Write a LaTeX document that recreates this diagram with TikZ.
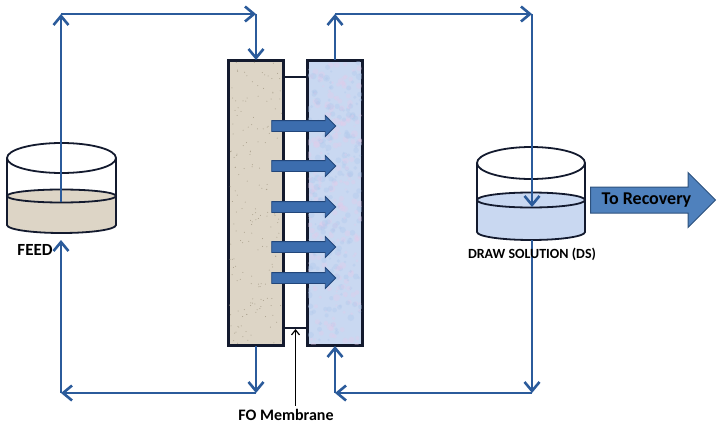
\documentclass[tikz,border=0pt]{standalone}
\usepackage{fontspec}
\setmainfont{Carlito}
\usetikzlibrary{arrows.meta,shapes.arrows,calc,positioning}

\definecolor{pipeblue}{HTML}{2B5B9B}
\definecolor{edge}{HTML}{131A2E}
\definecolor{feedfill}{HTML}{DDD5C6}
\definecolor{feedspeck}{HTML}{A89E8A}
\definecolor{dsfill}{HTML}{C9D8F1}
\definecolor{dspink}{HTML}{E4CBEA}
\definecolor{dsblue}{HTML}{AFC7EC}
\definecolor{fluxblue}{HTML}{3C6DAE}
\definecolor{fluxedge}{HTML}{22467A}
\definecolor{recblue}{HTML}{4F81BD}
\definecolor{recedge}{HTML}{2E527E}

\begin{document}
\begin{tikzpicture}[x=1pt, y=-1pt, >={Straight Barb[length=9pt,width=15pt]}]
		\useasboundingbox (0,0) rectangle (720,431);
		\tikzstyle{chamber} = [draw=edge, line width=2pt, minimum width=54pt, minimum height=284pt, inner sep=0pt]
		\tikzstyle{pipe} = [->, draw=pipeblue, line width=2.6pt]
		\tikzstyle{tank} = [draw=edge, line width=1.8pt]
		\tikzstyle{flux} = [single arrow, draw=fluxedge, fill=fluxblue, line width=0.8pt, minimum height=64pt, inner xsep=0pt, inner ysep=5pt, single arrow head extend=5pt]
		\tikzstyle{label} = [font=\bfseries, text=black]

		% membrane module
		\node[draw=edge, line width=2pt, minimum width=25pt, minimum height=251pt, inner sep=0pt] (mem) at (295.5,202.5) {};
		\node[chamber, fill=feedfill] (feedch) at (256,203) {};
		\node[chamber, fill=dsfill] (dsch) at (335,203) {};

		% texture of the two solutions
		\pgfmathsetseed{7}
		\begin{scope}
			\clip ([shift={(1pt,1pt)}]feedch.south west) rectangle ([shift={(-1pt,-1pt)}]feedch.north east);
			\foreach \k in {1,...,180}
				\fill[feedspeck] ($(feedch.south west)+(rnd*54pt, rnd*284pt)$) circle (0.5pt);
		\end{scope}
		\begin{scope}
			\clip ([shift={(1pt,1pt)}]dsch.south west) rectangle ([shift={(-1pt,-1pt)}]dsch.north east);
			\foreach \k in {1,...,220} {
				\pgfmathsetmacro\r{1+2.5*rnd}
				\fill[dspink, opacity=0.35] ($(dsch.south west)+(rnd*54pt, rnd*284pt)$) circle (\r pt);
				\fill[dsblue, opacity=0.35] ($(dsch.south west)+(rnd*54pt, rnd*284pt)$) circle (\r pt);
			}
		\end{scope}
		\draw[edge, line width=2pt] (feedch.south west) rectangle (feedch.north east);
		\draw[edge, line width=2pt] (dsch.south west) rectangle (dsch.north east);

		% water flux through the membrane
		\foreach \y [count=\i] in {126,166,207,247,278}
			\node[flux] (flux\i) at (301,\y) {};

		% feed tank
		\fill[feedfill] (7,196) -- (7,225) arc[start angle=180, end angle=360, x radius=54.5pt, y radius=8pt] -- (116,196) arc[start angle=0, end angle=180, x radius=54.5pt, y radius=6.5pt] -- cycle;
		\draw[tank] (61.5,158) ellipse [x radius=54.5pt, y radius=15pt];
		\draw[tank] (61.5,196) ellipse [x radius=54.5pt, y radius=6.5pt];
		\draw[tank] (7,158) -- (7,225) arc[start angle=180, end angle=360, x radius=54.5pt, y radius=8pt] -- (116,158);

		% draw solution tank
		\fill[dsfill] (477,200) -- (477,232) arc[start angle=180, end angle=360, x radius=54pt, y radius=8pt] -- (585,200) arc[start angle=0, end angle=180, x radius=54pt, y radius=7.5pt] -- cycle;
		\draw[tank] (531,163) ellipse [x radius=54pt, y radius=16pt];
		\draw[tank] (531,200) ellipse [x radius=54pt, y radius=7.5pt];
		\draw[tank] (477,163) -- (477,232) arc[start angle=180, end angle=360, x radius=54pt, y radius=8pt] -- (585,163);

		% pipe corners
		\coordinate (feedout) at (61,202);
		\coordinate (feedin) at (61,240);
		\coordinate (ftop) at (61,14);
		\coordinate (fbot) at (61,393);
		\coordinate (dsin) at (532,207);
		\coordinate (dsout) at (532,240);
		\coordinate (dtop) at (532,14);
		\coordinate (dbot) at (532,393);

		% feed loop
		\draw[pipe] (feedout) -- (ftop);
		\draw[pipe] (ftop) -- (ftop -| feedch.north);
		\draw[pipe] (ftop -| feedch.north) -- (feedch.north);
		\draw[pipe] (feedch.south) -- (fbot -| feedch.south);
		\draw[pipe] (fbot -| feedch.south) -- (fbot);
		\draw[pipe] (fbot) -- (feedin);

		% draw solution loop
		\draw[pipe] (dsch.north) -- (dsch.north |- dtop);
		\draw[pipe] (dsch.north |- dtop) -- (dtop);
		\draw[pipe] (dtop) -- (dsin);
		\draw[pipe] (dsout) -- (dbot);
		\draw[pipe] (dbot) -- (dsch.south |- dbot);
		\draw[pipe] (dsch.south |- dbot) -- (dsch.south);

		% labels
		\node[single arrow, draw=recedge, fill=recblue, line width=1pt, minimum height=125pt, single arrow head extend=14.5pt, inner ysep=4.75pt, text height=12pt, text depth=3.5pt, font=\fontsize{18}{18}\selectfont\bfseries, anchor=tail] (recovery) at (590,200) {To Recovery};
		\node[label, font=\fontsize{17}{17}\selectfont\bfseries] (feedlbl) at (35,250) {FEED};
		\node[label, font=\fontsize{14}{14}\selectfont\bfseries] (dslbl) at (532,254) {DRAW SOLUTION (DS)};
		\node[label, font=\fontsize{16}{16}\selectfont\bfseries] (fo) at (286,415) {FO Membrane};
		\draw[->, >={Straight Barb[length=5pt,width=8pt]}, line width=1.2pt] (fo.north -| mem.south) -- (mem.south);
\end{tikzpicture}
\end{document}
